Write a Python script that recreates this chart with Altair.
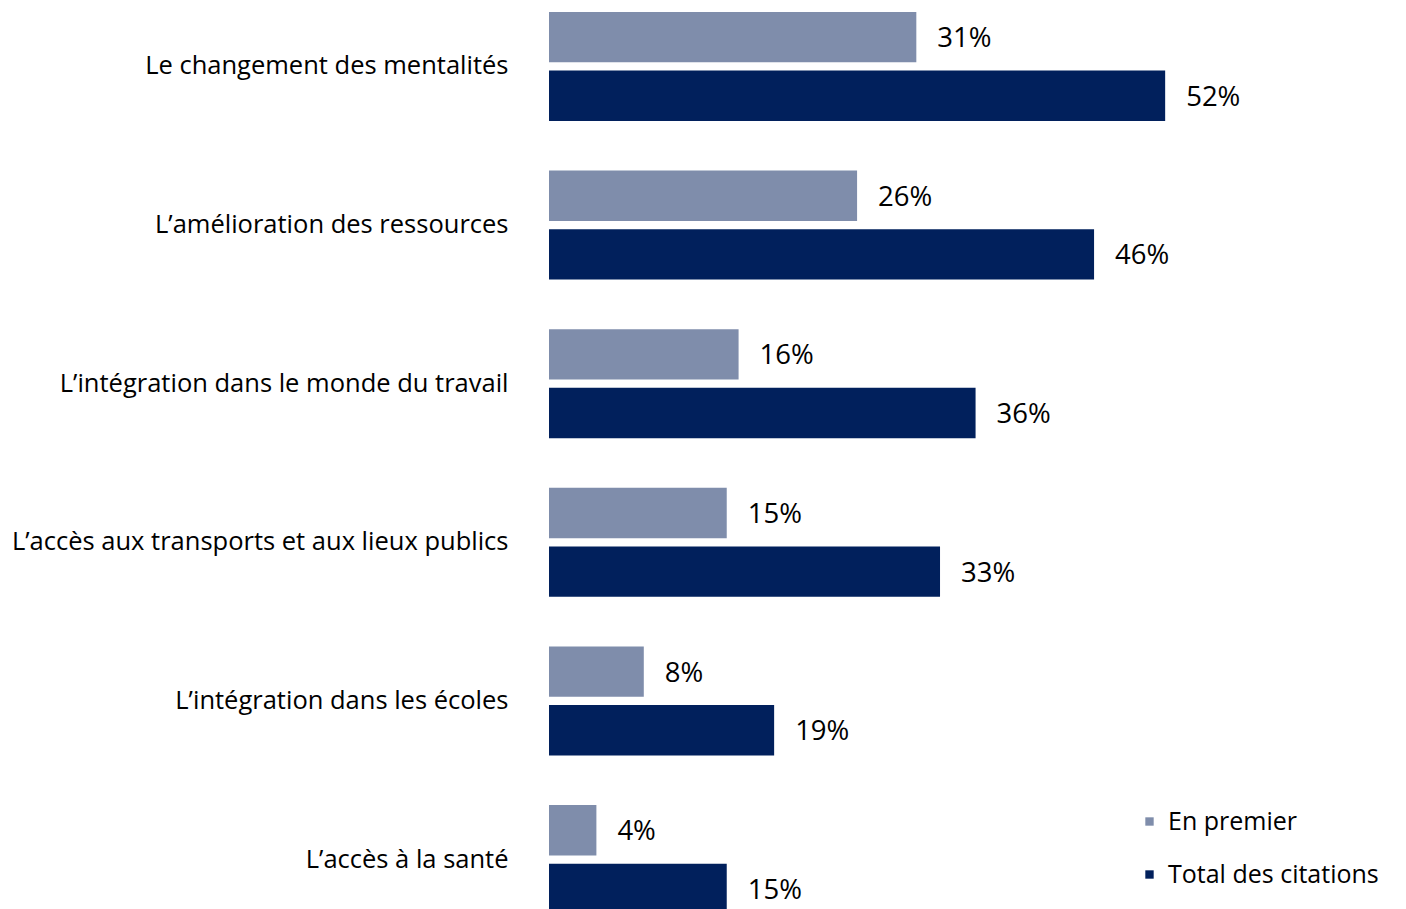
import altair as alt
import pandas as pd

categories = [
    "Le changement des mentalités",
    "L’amélioration des ressources",
    "L’intégration dans le monde du travail",
    "L’accès aux transports et aux lieux publics",
    "L’intégration dans les écoles",
    "L’accès à la santé",
]
series = ["En premier", "Total des citations"]
en_premier = [31, 26, 16, 15, 8, 4]
total_citations = [52, 46, 36, 33, 19, 15]
colors = ["#7f8dab", "#01205c"]

rows = []
for c, a, b in zip(categories, en_premier, total_citations):
    rows.append({"cat": c, "serie": series[0], "val": a, "lab": f"{a}%"})
    rows.append({"cat": c, "serie": series[1], "val": b, "lab": f"{b}%"})
df = pd.DataFrame(rows)

FONT = "Open Sans"

y_enc = alt.Y("cat:N", sort=categories,
              scale=alt.Scale(range=[0, 910], paddingInner=0.313, paddingOuter=0.025),
              axis=alt.Axis(title=None, ticks=False, domain=False, labelPadding=41,
                            labelFontSize=25.5, labelFont=FONT, labelColor="#000000",
                            labelLimit=700))
yoff = alt.YOffset("serie:N", sort=series,
                   scale=alt.Scale(paddingInner=0.14, paddingOuter=0))
x_enc = alt.X("val:Q", scale=alt.Scale(domain=[0, 71.65], nice=False), axis=None)

base = alt.Chart(df).encode(y=y_enc, yOffset=yoff, x=x_enc)

bars = base.mark_bar(clip=True).encode(
    color=alt.Color("serie:N", sort=series,
                    scale=alt.Scale(domain=series, range=colors),
                    legend=alt.Legend(title=None, orient="none", legendX=588, legendY=801,
                                      symbolType="square", symbolSize=70,
                                      labelFontSize=25, labelFont=FONT, labelColor="#000000",
                                      labelLimit=400, rowPadding=27, labelOffset=6,
                                      symbolStrokeWidth=0))
)
texts = base.mark_text(align="left", baseline="middle", dx=21, dy=2, fontSize=27.5,
                       font=FONT, color="#000000").encode(text="lab:N")

chart = (bars + texts).properties(
    width=849, height=901,
    autosize=alt.AutoSizeParams(type="none"),
    padding={"left": 541, "top": 0, "right": 0, "bottom": 0},
).configure_view(stroke=None)

chart.save("out.html", embed_options={"renderer": "svg", "actions": False})
